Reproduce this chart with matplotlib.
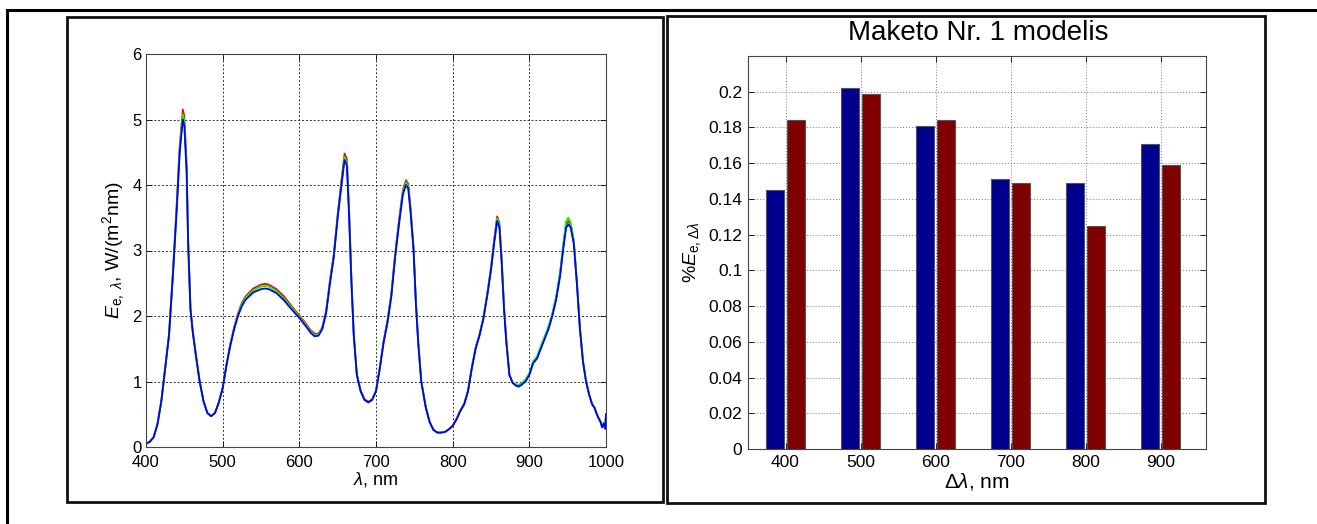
import numpy as np
import matplotlib
matplotlib.use("Agg")
import matplotlib.pyplot as plt
from matplotlib.lines import Line2D
from matplotlib.patches import Rectangle

plt.rcParams['font.family'] = ['Liberation Sans', 'DejaVu Sans']
plt.rcParams['mathtext.fontset'] = 'custom'
plt.rcParams['mathtext.rm'] = 'Liberation Sans'
plt.rcParams['mathtext.it'] = 'Liberation Sans:italic'
plt.rcParams['mathtext.bf'] = 'Liberation Sans:bold'

# ---- spectrum (left panel)
wl = [400, 405, 410, 415, 420, 425, 430, 435, 440, 444,
      448, 450, 453, 455, 458, 461, 465, 470, 475, 480,
      485, 490, 495, 500, 505, 510, 515, 520, 525, 530,
      540, 550, 555, 560, 570, 580, 590, 600, 610, 615,
      620, 625, 630, 635, 640, 645, 650, 655, 659, 662,
      665, 668, 671, 675, 680, 685, 690, 695, 700, 705,
      710, 715, 720, 725, 730, 735, 739, 742, 745, 749,
      752, 755, 759, 765, 770, 775, 780, 785, 790, 795,
      800, 805, 810, 815, 820, 825, 830, 835, 840, 845,
      850, 854, 858, 861, 864, 867, 870, 874, 878, 882,
      886, 890, 895, 900, 905, 910, 915, 920, 925, 930,
      935, 940, 944, 948, 951, 954, 958, 962, 966, 970,
      974, 978, 982, 985, 988, 990, 993, 995, 997, 999,
      1000]

e_red = [0.05, 0.08, 0.15, 0.35, 0.7, 1.2, 1.72, 2.65, 3.7, 4.6,
         5.15, 5.05, 4.3, 3.15, 2.12, 1.77, 1.42, 1.0, 0.7, 0.52,
         0.47, 0.52, 0.68, 0.9, 1.26, 1.57, 1.83, 2.04, 2.2, 2.3,
         2.42, 2.48, 2.49, 2.48, 2.41, 2.3, 2.15, 2.01, 1.86, 1.78,
         1.73, 1.73, 1.83, 2.08, 2.55, 2.95, 3.55, 4.08, 4.48, 4.4,
         3.58, 2.55, 1.72, 1.11, 0.86, 0.73, 0.69, 0.73, 0.86, 1.22,
         1.62, 1.93, 2.34, 2.95, 3.46, 3.92, 4.07, 4.02, 3.66, 3.04,
         2.23, 1.62, 1.01, 0.6, 0.38, 0.26, 0.22, 0.22, 0.23, 0.27,
         0.33, 0.43, 0.56, 0.66, 0.86, 1.22, 1.52, 1.72, 1.97, 2.33,
         2.74, 3.15, 3.52, 3.42, 2.85, 2.13, 1.62, 1.11, 0.99, 0.95,
         0.93, 0.96, 1.01, 1.11, 1.29, 1.36, 1.52, 1.67, 1.82, 2.02,
         2.28, 2.63, 3.04, 3.4, 3.45, 3.4, 3.14, 2.52, 1.81, 1.31,
         1.0, 0.8, 0.65, 0.6, 0.5, 0.45, 0.38, 0.3, 0.36, 0.28,
         0.5]

e_green = [0.05, 0.08, 0.15, 0.35, 0.7, 1.2, 1.71, 2.62, 3.65, 4.55,
           5.08, 4.98, 4.25, 3.12, 2.11, 1.76, 1.41, 1.0, 0.7, 0.52,
           0.47, 0.52, 0.68, 0.9, 1.25, 1.56, 1.82, 2.02, 2.18, 2.28,
           2.39, 2.45, 2.46, 2.45, 2.38, 2.27, 2.13, 1.99, 1.84, 1.76,
           1.71, 1.72, 1.82, 2.07, 2.53, 2.93, 3.53, 4.04, 4.43, 4.35,
           3.54, 2.52, 1.71, 1.1, 0.85, 0.72, 0.68, 0.72, 0.85, 1.21,
           1.61, 1.92, 2.32, 2.93, 3.43, 3.89, 4.04, 3.99, 3.63, 3.02,
           2.21, 1.61, 1.0, 0.6, 0.38, 0.26, 0.22, 0.22, 0.23, 0.27,
           0.32, 0.42, 0.55, 0.65, 0.86, 1.21, 1.52, 1.72, 1.98, 2.33,
           2.73, 3.13, 3.49, 3.39, 2.83, 2.12, 1.61, 1.1, 0.99, 0.96,
           0.95, 0.97, 1.03, 1.13, 1.31, 1.38, 1.54, 1.69, 1.84, 2.04,
           2.3, 2.66, 3.08, 3.45, 3.5, 3.42, 3.15, 2.53, 1.82, 1.31,
           1.0, 0.8, 0.65, 0.6, 0.5, 0.45, 0.38, 0.3, 0.36, 0.28,
           0.5]

e_blue = [0.05, 0.08, 0.15, 0.35, 0.7, 1.2, 1.7, 2.6, 3.6, 4.5,
          5.0, 4.9, 4.2, 3.1, 2.1, 1.75, 1.4, 1.0, 0.7, 0.52,
          0.47, 0.52, 0.68, 0.9, 1.25, 1.55, 1.8, 2.0, 2.15, 2.25,
          2.36, 2.41, 2.42, 2.41, 2.35, 2.24, 2.1, 1.97, 1.82, 1.74,
          1.69, 1.7, 1.8, 2.05, 2.5, 2.9, 3.5, 4.0, 4.38, 4.3,
          3.5, 2.5, 1.7, 1.1, 0.85, 0.72, 0.68, 0.72, 0.85, 1.2,
          1.6, 1.9, 2.3, 2.9, 3.4, 3.85, 4.0, 3.95, 3.6, 3.0,
          2.2, 1.6, 1.0, 0.6, 0.38, 0.26, 0.22, 0.22, 0.23, 0.27,
          0.32, 0.42, 0.55, 0.65, 0.85, 1.2, 1.5, 1.7, 1.95, 2.3,
          2.7, 3.1, 3.45, 3.35, 2.8, 2.1, 1.6, 1.1, 0.98, 0.94,
          0.92, 0.95, 1.0, 1.1, 1.28, 1.35, 1.5, 1.65, 1.8, 2.0,
          2.25, 2.6, 3.0, 3.35, 3.4, 3.35, 3.1, 2.5, 1.8, 1.3,
          1.0, 0.8, 0.65, 0.6, 0.5, 0.45, 0.38, 0.3, 0.36, 0.28,
          0.5]

# ---- band shares (right panel)
bands = [400, 500, 600, 700, 800, 900]
share_blue = [0.145, 0.202, 0.181, 0.151, 0.149, 0.171]
share_red = [0.184, 0.199, 0.184, 0.149, 0.125, 0.159]

W, H = 1317, 524
fig = plt.figure(figsize=(W / 100, H / 100), dpi=100)


def fx(px):
    return px / W


def fy(py):
    return 1 - py / H


# outer border (top and left only)
fig.add_artist(Line2D([fx(7), 1], [fy(10), fy(10)], color='k', lw=2.2))
fig.add_artist(Line2D([fx(7), fx(7)], [fy(10), 0], color='k', lw=2.2))
# panel frames
for x0, y0, x1, y1 in [(67, 17, 663, 502), (667, 16, 1265, 503)]:
    fig.add_artist(Rectangle((fx(x0), fy(y1)), fx(x1 - x0), (y1 - y0) / H,
                             transform=fig.transFigure, fill=False,
                             ec='#111111', lw=2.0))

# left: spectrum
ax1 = fig.add_axes([fx(146), fy(447), fx(460), 393 / H])
ax1.plot(wl, e_red, color='#ff0000', lw=1.3)
ax1.plot(wl, e_green, color='#00ff00', lw=1.3)
ax1.plot(wl, e_blue, color='#0000ff', lw=1.3)
ax1.set_xlim(400, 1000)
ax1.set_ylim(0, 6)
ax1.set_xticks(range(400, 1001, 100))
ax1.set_yticks(range(0, 7))
ax1.grid(True, ls=(0, (2, 2)), color='#333333', lw=0.7)
ax1.tick_params(direction='in', top=True, right=True, labelsize=12,
                length=4, width=0.6, pad=3)
ax1.tick_params(axis='x', pad=6)
for s in ax1.spines.values():
    s.set_color('#444444')
    s.set_linewidth(0.8)
ax1.set_xlabel(r'$\mathit{\lambda}$, nm', fontsize=13, labelpad=0)
ax1.set_ylabel(r'$\mathit{E}_{\mathrm{e},\ \mathit{\lambda}}$, W/(m$^{2}$nm)', fontsize=14, labelpad=4)

# right: bars
ax2 = fig.add_axes([fx(748), fy(449), fx(458), 393 / H])
bw = 24
x = np.array(bands)
ax2.bar(x - 14, share_blue, width=bw, color='#00008f', ec='#555555', lw=0.8, zorder=3)
ax2.bar(x + 14, share_red, width=bw, color='#800000', ec='#555555', lw=0.8, zorder=3)
ax2.set_xlim(350, 960)
ax2.set_ylim(0, 0.22)
ax2.set_xticks(bands)
ax2.set_yticks(np.arange(0, 0.201, 0.02))
ax2.set_yticklabels(['0', '0.02', '0.04', '0.06', '0.08', '0.1', '0.12',
                     '0.14', '0.16', '0.18', '0.2'])
ax2.grid(True, ls=(0, (1, 2)), color='#777777', lw=0.7, zorder=0)
ax2.set_axisbelow(True)
ax2.tick_params(direction='in', top=True, right=True, labelsize=12.5,
                length=4, width=0.6, pad=4)
for s in ax2.spines.values():
    s.set_color('#444444')
    s.set_linewidth(0.8)
ax2.set_xlabel(r'$\Delta\mathit{\lambda}$, nm', fontsize=15, labelpad=1)
ax2.set_ylabel(r'%$\mathit{E}_{\mathrm{e},\Delta\mathit{\lambda}}$', fontsize=14, labelpad=4)
fig.text(fx(978), fy(33), 'Maketo Nr. 1 modelis', ha='center', va='center', fontsize=20)

fig.savefig('out.png', dpi=100)
